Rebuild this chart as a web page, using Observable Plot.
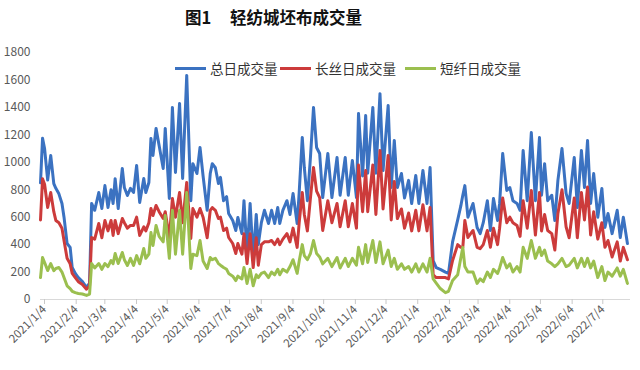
<!DOCTYPE html>
<html><head><meta charset="utf-8">
<script src="https://cdn.jsdelivr.net/npm/d3@7"></script>
<script src="https://cdn.jsdelivr.net/npm/@observablehq/plot@0.6"></script>
<style>
body{margin:0;background:#fff;font-family:"Noto Sans CJK SC","Noto Sans",sans-serif;}
#wrap{position:relative;width:640px;height:370px;overflow:hidden;}
#title{position:absolute;left:185px;top:5px;font-size:16.5px;font-weight:bold;color:#111;white-space:pre;}
.leg{position:absolute;top:58px;display:flex;align-items:center;font-size:13.5px;color:#333;}
.leg i{display:inline-block;width:31px;height:3px;margin-right:4px;}
#chart{position:absolute;left:0;top:0;}
</style></head>
<body>
<div id="wrap">
  <div id="chart"></div>
  <div id="title">图1     轻纺城坯布成交量</div>
  <div id="legend"></div>
</div>
<script>
const seriesNames = ["总日成交量", "长丝日成交量", "短纤日成交量"];
const seriesColors = ["#3b72c1", "#cc3b3b", "#9bbf4f"];
const yTicks = [0, 200, 400, 600, 800, 1000, 1200, 1400, 1600, 1800];
const xTickLabels = ["2021/1/4","2021/2/4","2021/3/4","2021/4/4","2021/5/4","2021/6/4","2021/7/4","2021/8/4","2021/9/4","2021/10/4","2021/11/4","2021/12/4","2022/1/4","2022/2/4","2022/3/4","2022/4/4","2022/5/4","2022/6/4","2022/7/4"];

const dates = [
"2021-01-04","2021-01-06","2021-01-08","2021-01-11","2021-01-14","2021-01-17","2021-01-19","2021-01-22","2021-01-25","2021-01-27",
"2021-01-30","2021-02-02","2021-02-04","2021-02-07","2021-02-10","2021-02-14","2021-02-18","2021-02-21","2021-02-23","2021-02-26",
"2021-03-02","2021-03-05","2021-03-08","2021-03-11","2021-03-14","2021-03-16","2021-03-18","2021-03-21","2021-03-25","2021-03-27",
"2021-03-30","2021-04-02","2021-04-05","2021-04-08","2021-04-11","2021-04-15","2021-04-17","2021-04-20","2021-04-22","2021-04-24",
"2021-04-27","2021-04-30","2021-05-04","2021-05-06","2021-05-10","2021-05-13","2021-05-16","2021-05-20","2021-05-23","2021-05-27",
"2021-05-31","2021-06-02","2021-06-06","2021-06-09","2021-06-12","2021-06-16","2021-06-19","2021-06-21","2021-06-24","2021-06-27",
"2021-06-29","2021-07-02","2021-07-05","2021-07-07","2021-07-11","2021-07-14","2021-07-16","2021-07-20","2021-07-22","2021-07-25",
"2021-07-28","2021-07-31","2021-08-03","2021-08-05","2021-08-08","2021-08-11","2021-08-15","2021-08-18","2021-08-21","2021-08-24",
"2021-08-26","2021-08-29","2021-09-02","2021-09-05","2021-09-08","2021-09-12","2021-09-14","2021-09-17","2021-09-19","2021-09-22",
"2021-09-25","2021-09-28","2021-10-01","2021-10-04","2021-10-07","2021-10-12","2021-10-16","2021-10-21","2021-10-24","2021-10-29",
"2021-11-01","2021-11-05","2021-11-09","2021-11-11","2021-11-15","2021-11-18","2021-11-20","2021-11-25","2021-11-28","2021-12-02",
"2021-12-05","2021-12-10","2021-12-13","2021-12-16","2021-12-19","2021-12-23","2021-12-26","2021-12-30","2022-01-02","2022-01-06",
"2022-01-09","2022-01-13","2022-01-17","2022-01-20","2022-01-23","2022-01-26","2022-01-30","2022-02-04","2022-02-07","2022-02-11",
"2022-02-16","2022-02-19","2022-02-21","2022-02-23","2022-02-26","2022-03-03","2022-03-07","2022-03-10","2022-03-13","2022-03-17",
"2022-03-20","2022-03-23","2022-03-27","2022-03-29","2022-04-01","2022-04-05","2022-04-08","2022-04-11","2022-04-15","2022-04-18",
"2022-04-21","2022-04-25","2022-04-29","2022-05-03","2022-05-07","2022-05-09","2022-05-12","2022-05-15","2022-05-19","2022-05-22",
"2022-05-25","2022-05-29","2022-06-02","2022-06-05","2022-06-10","2022-06-13","2022-06-17","2022-06-20","2022-06-23","2022-06-26",
"2022-06-29","2022-07-03","2022-07-07","2022-07-10","2022-07-13","2022-07-17","2022-07-22","2022-07-25","2022-07-28","2022-08-01"];

const totalVol = [
850,1175,1100,870,1050,845,810,770,700,600,
408,380,233,190,160,130,88,120,700,650,
780,663,830,670,800,700,880,663,955,816,
758,810,780,977,707,882,780,853,1174,1050,
1247,1123,955,1247,736,1400,926,1429,882,1633,
720,990,918,1108,900,650,918,990,960,845,
890,720,750,627,576,503,598,480,720,330,
700,300,620,400,560,650,554,650,554,670,
554,650,720,620,773,554,780,1181,962,720,
1035,1400,1108,1064,743,1064,743,1035,760,1035,
760,1013,743,1356,900,1341,920,1400,920,1500,
940,1414,816,1159,816,918,740,868,700,904,
700,940,700,962,284,233,220,200,190,420,
580,680,760,830,600,700,525,480,560,720,
503,736,576,700,1064,795,816,720,700,650,
1086,720,1217,720,1181,760,990,720,760,576,
868,1100,773,700,1035,670,1086,816,1159,700,
918,600,809,525,627,480,650,452,600,408];

const filamentVol = [
580,880,840,670,780,640,576,560,520,430,
300,260,190,160,130,110,75,100,452,440,
554,450,576,500,576,467,576,480,590,560,
520,540,540,600,467,530,500,560,663,612,
685,640,590,640,450,736,600,780,560,853,
445,663,600,663,600,450,650,670,650,590,
600,503,520,452,408,335,408,330,480,262,
480,233,450,250,400,420,420,430,400,440,
400,440,480,420,520,380,560,780,620,500,
740,962,790,743,503,720,560,700,530,720,
530,700,520,980,640,940,640,980,620,1086,
660,1050,580,860,590,660,520,630,500,650,
500,690,500,670,180,160,160,160,150,284,
400,380,380,576,452,503,380,370,400,503,
380,520,400,520,740,560,600,560,540,460,
720,520,795,470,780,500,620,503,480,360,
627,800,530,450,740,450,780,580,820,470,
640,440,560,380,430,310,420,280,380,290];

const stapleVol = [
160,306,270,211,262,210,226,233,200,160,
100,80,60,50,44,40,30,40,262,230,
262,220,262,240,284,260,335,262,343,290,
248,300,248,320,260,372,300,330,488,394,
540,460,420,612,300,650,330,650,330,780,
226,330,320,430,280,226,306,290,300,262,
250,233,220,190,170,138,170,150,233,117,
220,100,180,160,190,200,160,200,180,220,
180,220,200,240,290,190,280,400,320,290,
335,430,335,310,260,300,240,306,230,300,
240,300,250,380,260,400,270,430,270,420,
260,360,240,300,220,260,220,240,200,260,
200,260,200,300,150,120,80,50,60,138,
180,300,380,240,200,200,117,150,130,200,
160,220,190,230,306,230,260,200,240,200,
380,300,430,300,380,320,360,280,260,240,
260,300,240,250,300,230,300,240,300,230,
280,160,240,138,200,170,230,170,220,117];

const parseDash = d3.utcParse("%Y-%m-%d");
const parseSlash = d3.utcParse("%Y/%m/%d");
const seriesValues = [totalVol, filamentVol, stapleVol];
const rows = [];
seriesValues.forEach((vals, s) => {
  dates.forEach((d, i) => rows.push({date: parseDash(d), value: vals[i], series: seriesNames[s]}));
});

const chart = Plot.plot({
  width: 640, height: 370,
  marginTop: 52, marginBottom: 71, marginLeft: 40, marginRight: 10,
  style: {fontFamily: '"Noto Sans CJK SC","Noto Sans",sans-serif', fontSize: "12px", color: "#595959", background: "transparent"},
  x: {type: "utc", domain: [parseDash("2021-01-04"), parseDash("2022-08-04")]},
  y: {domain: [0, 1800]},
  color: {domain: seriesNames, range: seriesColors},
  marks: [
    Plot.axisY({ticks: yTicks, tickFormat: d => String(d), tickSize: 0, tickPadding: 10, label: null, fontSize: 12}),
    Plot.ruleY([0], {stroke: "#d9d9d9"}),
    Plot.axisX({ticks: xTickLabels.map(parseSlash), tickFormat: d3.utcFormat("%Y/%-m/%-d"), tickRotate: -45, tickSize: 5, tickPadding: 3, dx: 4, stroke: "#c8c8c8", fill: "#595959", label: null, fontSize: 11.5}),
    Plot.lineY(rows, {x: "date", y: "value", z: "series", stroke: "series", strokeWidth: 3, strokeLinejoin: "round", curve: "linear"})
  ]
});
document.getElementById("chart").appendChild(chart);

const legend = document.getElementById("legend");
const legLeft = [175, 280, 405];
seriesNames.forEach((n, i) => {
  const el = document.createElement("div");
  el.className = "leg";
  el.style.left = legLeft[i] + "px";
  el.innerHTML = `<i style="background:${seriesColors[i]}"></i><span>${n}</span>`;
  legend.appendChild(el);
});
</script>
</body></html>
